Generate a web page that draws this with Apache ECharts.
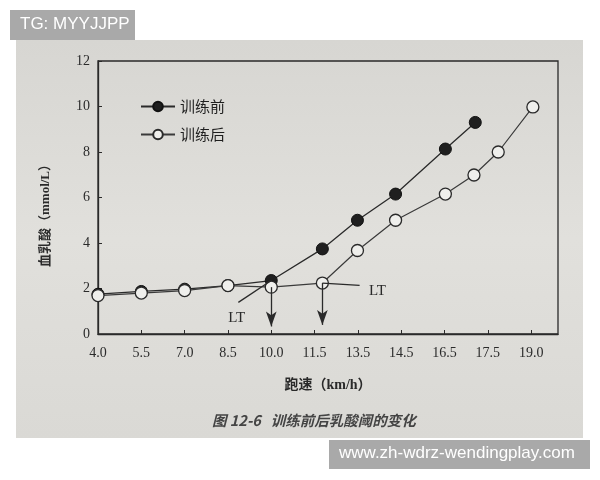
<!DOCTYPE html>
<html>
<head>
<meta charset="utf-8">
<title>训练前后乳酸阈的变化</title>
<script src="https://cdn.jsdelivr.net/npm/echarts@6/dist/echarts.min.js"></script>
<style>
  html, body { margin: 0; padding: 0; background: #ffffff; }
  #chart { width: 600px; height: 480px; }
</style>
</head>
<body>
<div id="chart"></div>
<script>
// x 轴刻度标签（等距排列）
const speedLabels = ['4.0', '5.5', '7.0', '8.5', '10.0', '11.5', '13.5', '14.5', '16.5', '17.5', '19.0'];

// 训练前：x 为刻度位置（按刻度序号计），y 为血乳酸
const beforeX = [0, 1, 2, 3, 4, 5.18, 5.99, 6.87, 8.02, 8.71];
const beforeY = [1.75, 1.87, 1.97, 2.13, 2.35, 3.74, 5.0, 6.15, 8.13, 9.3];

// 训练后
const afterX = [0, 1, 2, 3, 4, 5.18, 5.99, 6.87, 8.02, 8.68, 9.24, 10.04];
const afterY = [1.69, 1.8, 1.91, 2.13, 2.06, 2.24, 3.67, 5.0, 6.15, 6.99, 8.0, 9.98];

// 乳酸阈标注：延长线、箭头、LT 文字位置（数据坐标）
const beforeLtLine = [[3.24, 1.39], [4, 2.35]];
const afterLtLine = [[5.18, 2.24], [6.04, 2.14]];
const ltArrows = [[[4, 2.06], [4, 0.33]], [[5.18, 2.24], [5.18, 0.4]]];
const ltLabels = [[3.2, 0.72], [6.45, 1.9]];

const ink = '#2a2a2a';
const serif = '"Liberation Serif", "DejaVu Serif", serif';
const cjk = '"Noto Sans CJK SC", sans-serif';

const chart = echarts.init(document.getElementById('chart'));

const zip = (xs, ys) => xs.map((x, i) => [x, ys[i]]);

const option = {
  animation: false,
  backgroundColor: '#ffffff',
  graphic: [
    {
      type: 'rect', z: -10, silent: true,
      shape: { x: 16, y: 40, width: 567, height: 398 },
      style: {
        fill: new echarts.graphic.LinearGradient(0, 0, 0, 1, [
          { offset: 0, color: '#d7d6d2' },
          { offset: 0.5, color: '#e1e0dc' },
          { offset: 1, color: '#dad9d5' }
        ])
      }
    },
    {
      type: 'text', left: 212, top: 413, silent: true,
      style: {
        text: '图 12-6   训练前后乳酸阈的变化',
        font: 'italic bold 14.5px "Noto Sans CJK SC", sans-serif',
        fill: '#444444'
      }
    },
    {
      type: 'rect', silent: true, z: 20,
      shape: { x: 10, y: 10, width: 125, height: 30 },
      style: { fill: '#a9a9a9' }
    },
    {
      type: 'text', left: 20, top: 16, silent: true, z: 21,
      style: { text: 'TG: MYYJJPP', font: '17px "Liberation Sans", sans-serif', fill: '#ffffff' }
    },
    {
      type: 'rect', silent: true, z: 20,
      shape: { x: 329, y: 440, width: 261, height: 29 },
      style: { fill: '#a9a9a9' }
    },
    {
      type: 'text', left: 339, top: 445, silent: true, z: 21,
      style: { text: 'www.zh-wdrz-wendingplay.com', font: '17px "Liberation Sans", sans-serif', fill: '#ffffff' }
    }
  ],
  grid: {
    left: 98, right: 42, top: 61, bottom: 146,
    show: true, borderColor: ink, borderWidth: 1.3, backgroundColor: 'transparent'
  },
  legend: {
    orient: 'vertical',
    left: 135, top: 94,
    itemGap: 13, itemWidth: 34, itemHeight: 12,
    textStyle: { fontFamily: cjk, fontSize: 15, color: '#1e1e1e' },
    data: ['训练前', '训练后']
  },
  xAxis: {
    type: 'value',
    min: 0, max: 10.62, interval: 1,
    name: '跑速（km/h）',
    nameLocation: 'middle', nameGap: 44,
    nameTextStyle: { fontFamily: serif + ', ' + cjk, fontSize: 14, fontWeight: 'bold', color: ink },
    axisLine: { show: true, lineStyle: { color: ink, width: 1.3 } },
    axisTick: { show: true, inside: true, length: 4, lineStyle: { color: ink } },
    splitLine: { show: false },
    axisLabel: {
      margin: 12, fontFamily: serif, fontSize: 14, color: ink, showMaxLabel: false,
      formatter: v => (Number.isInteger(v) && speedLabels[v]) ? speedLabels[v] : ''
    }
  },
  yAxis: {
    type: 'value',
    min: 0, max: 12, interval: 2,
    name: '血乳酸（mmol/L）',
    nameLocation: 'middle', nameGap: 46, nameRotate: 90,
    nameTextStyle: { fontFamily: serif + ', ' + cjk, fontSize: 13, fontWeight: 'bold', color: ink, padding: [0, 30, 0, 0] },
    axisLine: { show: true, lineStyle: { color: ink, width: 1.3 } },
    axisTick: { show: true, inside: true, length: 4, lineStyle: { color: ink } },
    splitLine: { show: false },
    axisLabel: { margin: 8, fontFamily: serif, fontSize: 14, color: ink }
  },
  series: [
    {
      name: '训练前',
      type: 'line',
      z: 3,
      data: zip(beforeX, beforeY),
      symbol: 'circle', symbolSize: 12,
      lineStyle: { color: ink, width: 1.3 },
      itemStyle: { color: '#1f1f1f', borderColor: '#111', borderWidth: 1 },
      markLine: {
        silent: true, symbol: 'none',
        lineStyle: { color: ink, width: 1.3, type: 'solid' },
        label: { show: false },
        data: [[{ coord: beforeLtLine[0] }, { coord: beforeLtLine[1] }]]
      },
      markPoint: {
        silent: true, symbol: 'circle', symbolSize: 0,
        label: { show: true, formatter: 'LT', fontFamily: serif, fontSize: 15, color: ink },
        data: ltLabels.map(c => ({ coord: c }))
      }
    },
    {
      name: '训练后',
      type: 'line',
      z: 4,
      data: zip(afterX, afterY),
      symbol: 'circle', symbolSize: 12,
      lineStyle: { color: '#3a3a3a', width: 1.2 },
      itemStyle: { color: '#efefec', borderColor: '#2a2a2a', borderWidth: 1.3 },
      markLine: {
        silent: true,
        lineStyle: { color: ink, width: 1.3, type: 'solid' },
        label: { show: false },
        data: [
          [{ coord: afterLtLine[0], symbol: 'none' }, { coord: afterLtLine[1], symbol: 'none' }],
          ...ltArrows.map(a => [
            { coord: a[0], symbol: 'none' },
            { coord: a[1], symbol: 'arrow', symbolSize: [8, 15] }
          ])
        ]
      }
    }
  ]
};

chart.setOption(option);
</script>
</body>
</html>
